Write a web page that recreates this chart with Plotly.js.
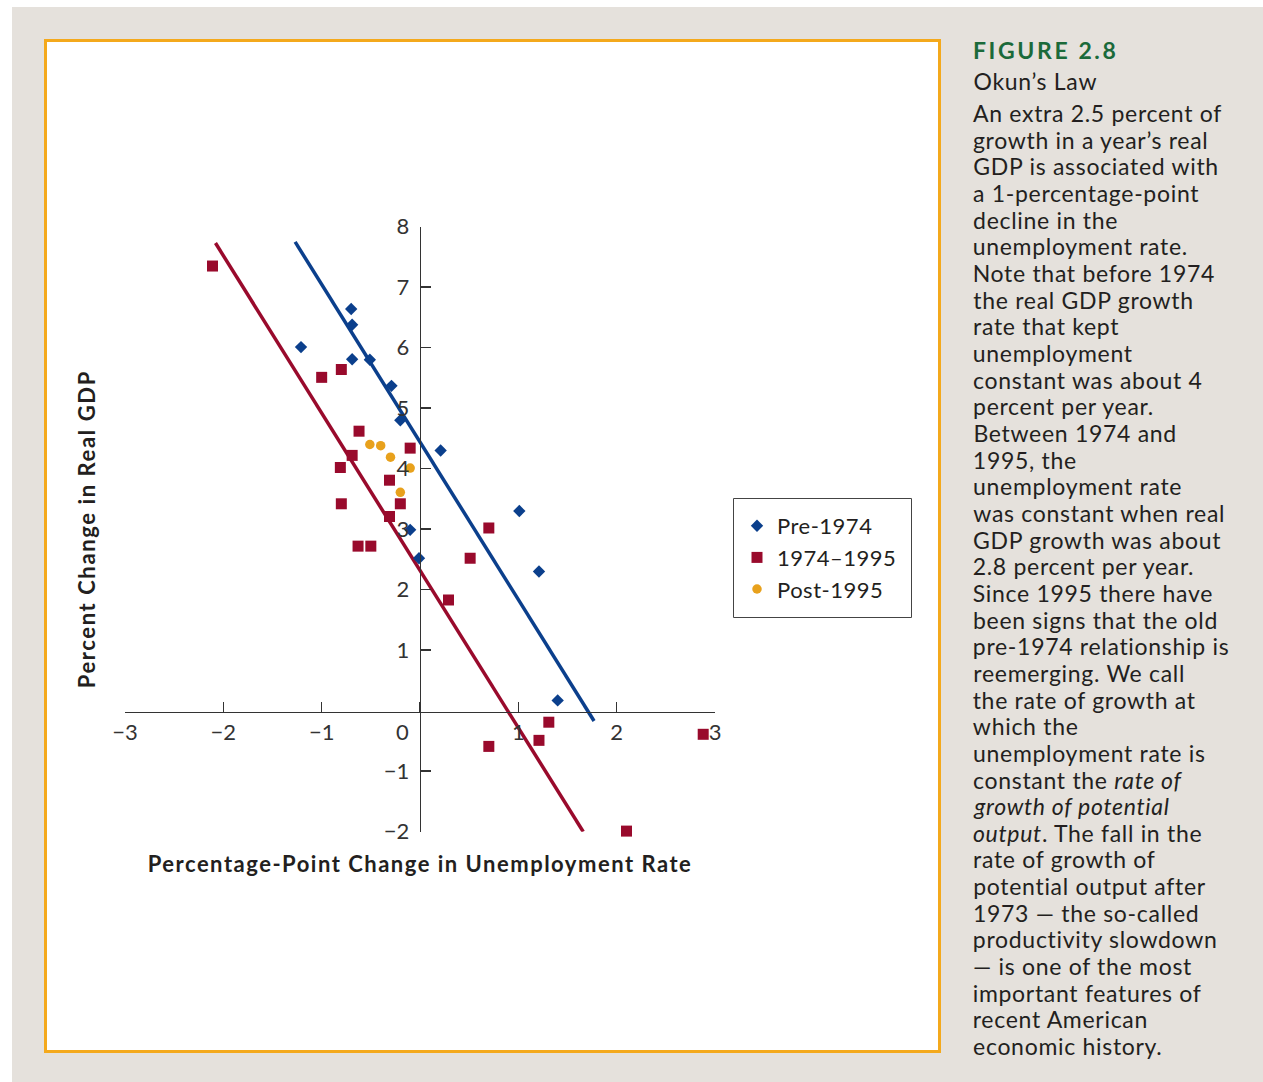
<!DOCTYPE html>
<html><head><meta charset="utf-8">
<script src="https://cdn.plot.ly/plotly-3.0.1.min.js"></script>
<style>
html,body{margin:0;padding:0;background:#fff;}
#chart{width:1263px;height:1082px;}
g.annotation text{letter-spacing:0.7px;}
g.annotation[data-index="0"] text{letter-spacing:2.6px;}
g.annotation[data-index="38"] text{letter-spacing:0;}
g.g-xtitle text{letter-spacing:1.5px;}
g.g-ytitle text{letter-spacing:1.6px;}
g.legend text{letter-spacing:0.5px;}
</style></head><body><div id="chart"></div>
<script>
// ---- data ----
const preX  = [-1.21,-0.70,-0.69,-0.69,-0.51,-0.29,-0.20,0.21,-0.10,-0.01,1.01,1.21,1.40];
const preY  = [6.01,6.64,6.38,5.81,5.80,5.37,4.80,4.30,2.99,2.52,3.30,2.30,0.17];
const midX  = [-2.11,-1.00,-0.80,-0.62,-0.69,-0.81,-0.80,-0.10,-0.31,-0.20,-0.31,-0.63,-0.50,0.70,0.51,0.29,0.70,1.31,1.21,2.88,2.10];
const midY  = [7.35,5.51,5.64,4.62,4.22,4.02,3.42,4.34,3.81,3.42,3.21,2.72,2.72,3.02,2.52,1.83,-0.59,-0.19,-0.49,-0.39,-1.99];
const postX = [-0.51,-0.40,-0.30,-0.10,-0.20];
const postY = [4.40,4.38,4.19,4.01,3.61];
const preFitX = [-1.27,1.77];
const preFitY = [7.75,-0.17];
const midFitX = [-2.08,1.66];
const midFitY = [7.73,-2.00];
const seriesNames = ["Pre-1974","1974–1995","Post-1995"];
const xTickVals = [-3,-2,-1,0,1,2,3];
const xTickText = ["−3","−2","−1","","1","2","3"];
const yTickVals = [-2,-1,1,2,3,4,5,6,7,8];
const yTickText = ["−2","−1","1","2","3","4","5","6","7","8"];
const figLabel = "FIGURE 2.8";
const figTitle = "Okun’s Law";
const captionLines = [
 "An extra 2.5 percent of",
 "growth in a year’s real",
 "GDP is associated with",
 "a 1-percentage-point",
 "decline in the",
 "unemployment rate.",
 "Note that before 1974",
 "the real GDP growth",
 "rate that kept",
 "unemployment",
 "constant was about 4",
 "percent per year.",
 "Between 1974 and",
 "1995, the",
 "unemployment rate",
 "was constant when real",
 "GDP growth was about",
 "2.8 percent per year.",
 "Since 1995 there have",
 "been signs that the old",
 "pre-1974 relationship is",
 "reemerging. We call",
 "the rate of growth at",
 "which the",
 "unemployment rate is",
 "constant the <i>rate of</i>",
 "<i>growth of potential</i>",
 "<i>output</i>. The fall in the",
 "rate of growth of",
 "potential output after",
 "1973 — the so-called",
 "productivity slowdown",
 "— is one of the most",
 "important features of",
 "recent American",
 "economic history."
];

// ---- styling ----
const W = 1263, H = 1082;
const FONT = "Lato, 'Noto Sans', sans-serif";
const TXT = "#231f20";
const BLUE = "#0b3f8c", RED = "#990a2c", ORANGE = "#e8a11c";
const px = v => v / W, py = v => 1 - v / H;
const plainLen = s => s.replace(/<[^>]+>/g, "").length;
const LS = 0.7;

const traces = [
  {x: preFitX, y: preFitY, mode: "lines", line: {color: BLUE, width: 3.5}, showlegend: false, hoverinfo: "skip"},
  {x: midFitX, y: midFitY, mode: "lines", line: {color: RED, width: 3.5}, showlegend: false, hoverinfo: "skip"},
  {x: preX, y: preY, mode: "markers", name: seriesNames[0], marker: {symbol: "diamond", size: 9.5, color: BLUE}, cliponaxis: false},
  {x: midX, y: midY, mode: "markers", name: seriesNames[1], marker: {symbol: "square", size: 11, color: RED}, cliponaxis: false},
  {x: postX, y: postY, mode: "markers", name: seriesNames[2], marker: {symbol: "circle", size: 9.5, color: ORANGE}, cliponaxis: false}
];

const annotations = [];
annotations.push({xref: "paper", yref: "paper", x: px(971 + plainLen(figLabel) * 2.6 / 2), y: py(50), xanchor: "left", yanchor: "middle",
  text: "<b>" + figLabel + "</b>", showarrow: false, font: {family: FONT, size: 23, color: "#1b6a3a"}});
annotations.push({xref: "paper", yref: "paper", x: px(971 + plainLen(figTitle) * LS / 2), y: py(81), xanchor: "left", yanchor: "middle",
  text: figTitle, showarrow: false, font: {family: FONT, size: 23, color: TXT}});
captionLines.forEach((t, i) => {
  annotations.push({xref: "paper", yref: "paper", x: px(971 + plainLen(t) * LS / 2), y: py(113 + i * 26.66), xanchor: "left", yanchor: "middle",
    text: t, showarrow: false, font: {family: FONT, size: 23, color: TXT}});
});
annotations.push({xref: "x", yref: "y", x: -0.18, y: -0.34, xanchor: "center", yanchor: "middle",
  text: "0", showarrow: false, font: {family: FONT, size: 22, color: "#333"}});

const layout = {
  width: W, height: H,
  margin: {l: 0, r: 0, t: 0, b: 0},
  paper_bgcolor: "#ffffff",
  plot_bgcolor: "rgba(0,0,0,0)",
  font: {family: FONT, color: TXT},
  showlegend: true,
  legend: {x: px(737), y: py(505), xanchor: "left", yanchor: "top", bgcolor: "rgba(0,0,0,0)",
    borderwidth: 0, font: {family: FONT, size: 22, color: TXT}},
  xaxis: {domain: [px(125), px(715)], range: [-3, 3], anchor: "free", position: 1 - 711.8 / H,
    showgrid: false, zeroline: false, showline: true, linecolor: "#333", linewidth: 1.5,
    ticks: "inside", ticklen: 10, tickwidth: 1.5, tickcolor: "#333",
    tickmode: "array", tickvals: xTickVals, ticktext: xTickText, ticklabelstandoff: 0,
    tickfont: {family: FONT, size: 22, color: "#333"},
    title: {text: "<b>Percentage-Point Change in Unemployment Rate</b>", standoff: 113,
      font: {family: FONT, size: 22, color: TXT}}},
  yaxis: {domain: [py(831.7), py(226.7)], range: [-2, 8], anchor: "free", position: px(419.7),
    showgrid: false, zeroline: false, showline: true, linecolor: "#333", linewidth: 1.5,
    ticks: "inside", ticklen: 10, tickwidth: 1.5, tickcolor: "#333",
    tickmode: "array", tickvals: yTickVals, ticktext: yTickText, ticklabelstandoff: 6,
    tickfont: {family: FONT, size: 22, color: "#333"},
    title: {text: "<b>Percent Change in Real GDP</b>", standoff: 280,
      font: {family: FONT, size: 22, color: TXT}}},
  shapes: [
    {type: "rect", xref: "paper", yref: "paper", x0: px(12), x1: 1, y0: 0, y1: py(7),
      fillcolor: "#e5e1dc", line: {width: 0}, layer: "below"},
    {type: "rect", xref: "paper", yref: "paper", x0: px(45.5), x1: px(939.5), y0: py(1051.5), y1: py(40.5),
      fillcolor: "#ffffff", line: {color: "#f4a91c", width: 3}, layer: "below"},
    {type: "rect", xref: "paper", yref: "paper", x0: px(733.5), x1: px(911.5), y0: py(617.5), y1: py(498.5),
      fillcolor: "#ffffff", line: {color: "#444", width: 1}, layer: "below"}
  ],
  annotations: annotations
};

Plotly.newPlot("chart", traces, layout, {displayModeBar: false, staticPlot: true});
</script></body></html>
